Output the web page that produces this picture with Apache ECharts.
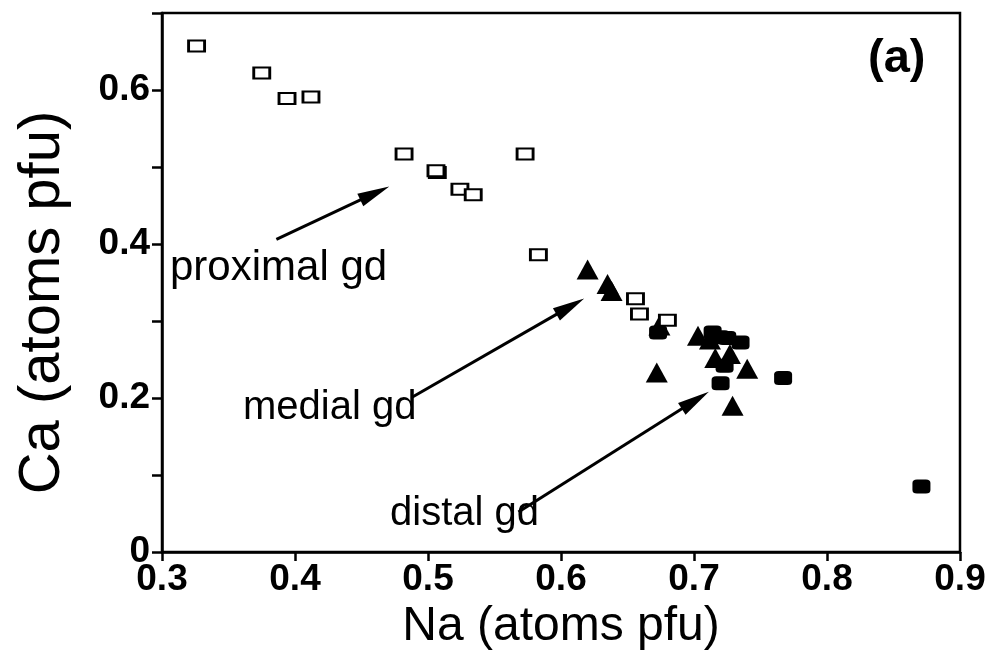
<!DOCTYPE html>
<html>
<head>
<meta charset="utf-8">
<script src="https://cdn.jsdelivr.net/npm/echarts@6/dist/echarts.min.js"></script>
<style>
  html, body { margin: 0; padding: 0; background: #fff; }
  #main { width: 992px; height: 664px; }
</style>
</head>
<body>
<div id="main"></div>
<script>
// open squares - proximal granodiorite
const proximalNa = [0.326, 0.375, 0.394, 0.412, 0.482, 0.507, 0.506, 0.524, 0.534, 0.573, 0.583, 0.656, 0.659, 0.680]
const proximalCa = [0.657, 0.622, 0.589, 0.591, 0.517, 0.493, 0.495, 0.471, 0.464, 0.517, 0.386, 0.329, 0.309, 0.301]
// filled triangles - medial
const medialNa = [0.620, 0.635, 0.638, 0.674, 0.703, 0.712, 0.716, 0.727, 0.740, 0.672, 0.729]
const medialCa = [0.367, 0.348, 0.339, 0.294, 0.281, 0.276, 0.252, 0.257, 0.238, 0.233, 0.190]
// filled squares - distal
const distalNa = [0.673, 0.714, 0.720, 0.725, 0.735, 0.723, 0.720, 0.767, 0.871]
const distalCa = [0.285, 0.285, 0.279, 0.278, 0.272, 0.242, 0.219, 0.226, 0.085]

const xTicks = [0.3, 0.4, 0.5, 0.6, 0.7, 0.8, 0.9]
const yTickLabels = ['0', '0.2', '0.4', '0.6']

// arrows [fromNa, fromCa, toNa, toCa]
const arrows = [
  [0.386, 0.406, 0.460, 0.466],
  [0.488, 0.201, 0.607, 0.319],
  [0.568, 0.052, 0.701, 0.197]
]

const pairs = (xs, ys) => xs.map((x, i) => [x, ys[i]])
const font = 'Liberation Sans'

const chart = echarts.init(document.getElementById('main'))
chart.setOption({
  animation: false,
  grid: {
    left: 162, right: 32, top: 13, bottom: 112,
    show: true, borderColor: '#000', borderWidth: 2.5, backgroundColor: 'transparent'
  },
  xAxis: {
    type: 'value', min: 0.3, max: 0.9, interval: 0.1,
    name: 'Na (atoms pfu)', nameLocation: 'middle', nameGap: 42,
    nameTextStyle: { fontFamily: font, fontSize: 48, color: '#000', verticalAlign: 'top' },
    axisLine: { lineStyle: { color: '#000', width: 2.5 } },
    axisTick: { inside: false, length: 9, lineStyle: { color: '#000', width: 2.5 } },
    splitLine: { show: false },
    axisLabel: {
      margin: 9, fontFamily: font, fontWeight: 'bold', fontSize: 37, color: '#000',
      formatter: v => {
        const t = xTicks.find(k => Math.abs(k - v) < 1e-6)
        return t === undefined ? '' : t.toFixed(1)
      }
    }
  },
  yAxis: {
    type: 'value', min: 0, max: 0.7, interval: 0.1,
    name: 'Ca (atoms pfu)', nameLocation: 'middle', nameGap: 90,
    nameTextStyle: { fontFamily: font, fontSize: 58, color: '#000', padding: [0, 40, 0, 0] },
    axisLine: { lineStyle: { color: '#000', width: 2.5 } },
    axisTick: { inside: false, length: 10, lineStyle: { color: '#000', width: 2.5 } },
    splitLine: { show: false },
    axisLabel: {
      margin: 12, fontFamily: font, fontWeight: 'bold', fontSize: 37, color: '#000',
      formatter: v => {
        const k = Math.round(v * 10)
        return k % 2 === 0 ? (yTickLabels[k / 2] || '') : ''
      }
    }
  },
  graphic: [
    { type: 'text', left: 868, top: 36, style: { text: '(a)', fontFamily: font, fontWeight: 'bold', fontSize: 47, fill: '#000' } },
    { type: 'text', x: 170, y: 268, style: { text: 'proximal gd', fontFamily: font, fontSize: 42, fill: '#000', textVerticalAlign: 'middle' } },
    { type: 'text', x: 243, y: 408, style: { text: 'medial gd', fontFamily: font, fontSize: 40, fill: '#000', textVerticalAlign: 'middle' } },
    { type: 'text', x: 390, y: 514, style: { text: 'distal gd', fontFamily: font, fontSize: 40, fill: '#000', textVerticalAlign: 'middle' } }
  ],
  series: [
    {
      name: 'medial gd', type: 'scatter', symbol: 'triangle', symbolSize: [22, 20],
      itemStyle: { color: '#000', opacity: 1 }, data: pairs(medialNa, medialCa), z: 2,
      markLine: {
        silent: true, symbol: ['none', 'triangle'], symbolSize: [14, 32],
        lineStyle: { color: '#000', width: 3, type: 'solid', opacity: 1 },
        itemStyle: { color: '#000' },
        label: { show: false },
        data: arrows.map(a => [{ coord: [a[0], a[1]] }, { coord: [a[2], a[3]] }])
      }
    },
    {
      name: 'distal gd', type: 'scatter', symbol: 'roundRect', symbolSize: [18, 14],
      itemStyle: { color: '#000', opacity: 1 }, data: pairs(distalNa, distalCa), z: 3
    },
    {
      name: 'proximal gd', type: 'scatter', symbol: 'rect', symbolSize: [16, 11],
      itemStyle: { color: '#fff', borderColor: '#000', borderWidth: 2.4, opacity: 1 },
      data: pairs(proximalNa, proximalCa), z: 4
    }
  ]
})
</script>
</body>
</html>
